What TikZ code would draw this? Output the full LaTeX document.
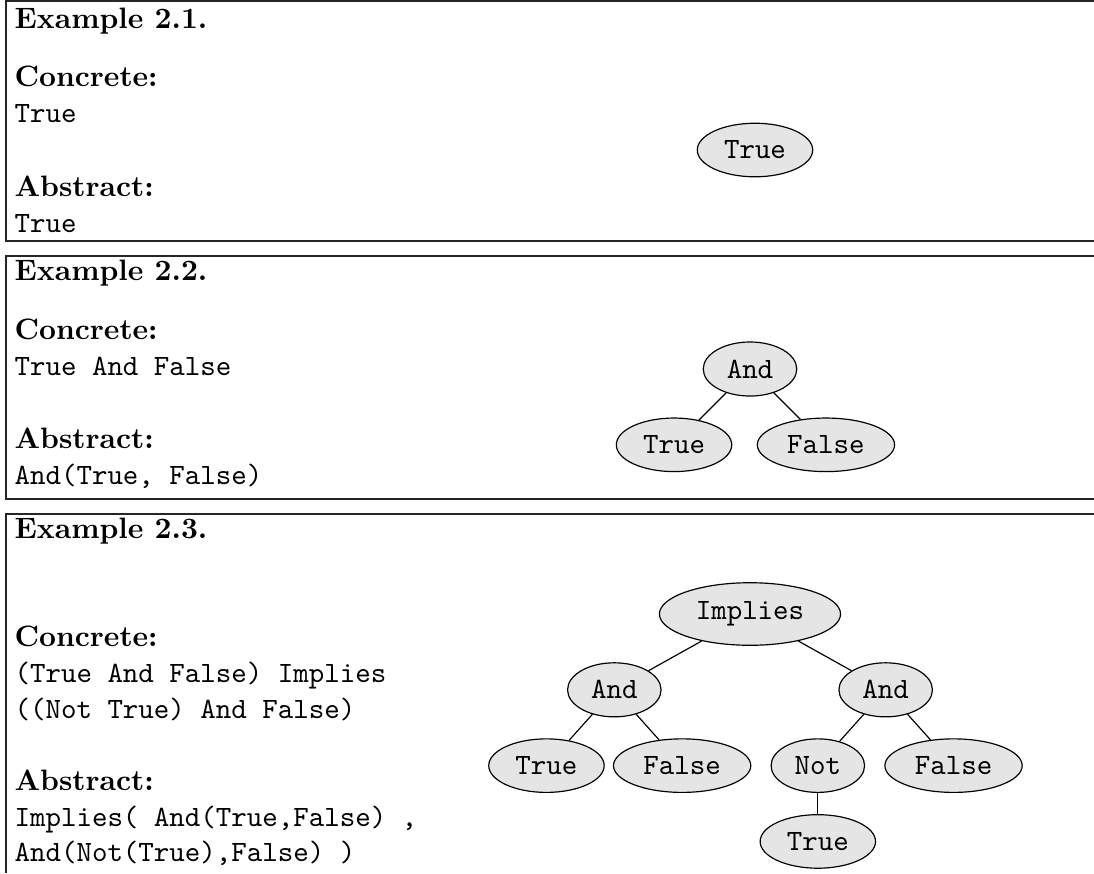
\documentclass[tikz,border=0pt]{standalone}
\usetikzlibrary{shapes,trees}
\tikzset{
  frame/.style = {draw=black!85, line width=0.5pt},
  head/.style  = {anchor=base west, inner sep=0pt, font=\bfseries},
  code/.style  = {anchor=base west, inner sep=0pt, font=\ttfamily},
  term/.style  = {ellipse, draw, thin, fill=black!10, font=\ttfamily}
}

\begin{document}
\begin{tikzpicture}
[x=0.339pt, y=-0.339pt,
  level distance=25.7pt,
  edge from parent/.style={draw, thin}]
\useasboundingbox (0,0) rectangle (1094,873);

% the three frames, open on the right
\draw[frame] (1094,1) -| (6,241) -- (1094,241);
\draw[frame] (1094,256) -| (6,499) -- (1094,499);
\draw[frame] (1094,514) -| (6,873);

% example 2.1
\node[head] (ex1) at (14,28) {Example 2.1.};
\node[head] (con1) at (14,86) {Concrete:};
\node[code] (cs1) at (14,122) {True};
\node[head] (abs1) at (14,196) {Abstract:};
\node[code] (as1) at (14,232) {True};
\node[term] (a1) at (755,150) {True};

% example 2.2
\node[head] (ex2) at (14,280) {Example 2.2.};
\node[head] (con2) at (14,339) {Concrete:};
\node[code] (cs2) at (14,375) {True And False};
\node[head] (abs2) at (14,448) {Abstract:};
\node[code] (as2) at (14,484) {And(True, False)};
\node[term] (b2) at (750,369) {And}
  [sibling distance=51.5pt]
  child {node[term] (b21) {True}}
  child {node[term] (b22) {False}};

% example 2.3
\node[head] (ex3) at (14,538) {Example 2.3.};
\node[head] (con3) at (14,646) {Concrete:};
\node[code] (cs3) at (14,682) {(True And False) Implies};
\node[code] (cs3b) at (14,718) {((Not True) And False)};
\node[head] (abs3) at (14,790) {Abstract:};
\node[code] (as3) at (14,826) {Implies( And(True,False) ,};
\node[code] (as3b) at (14,861) {And(Not(True),False) )};
\node[term] (c3) at (750,614) {Implies}
  [level 1/.style={sibling distance=92pt},
   level 2/.style={sibling distance=46pt}]
  child {node[term] (c31) {And}
    child {node[term] (c311) {True}}
    child {node[term] (c312) {False}}
  }
  child {node[term] (c32) {And}
    child {node[term] (c321) {Not}
      child {node[term] (c3211) {True}}
    }
    child {node[term] (c322) {False}}
  };

\end{tikzpicture}
\end{document}
